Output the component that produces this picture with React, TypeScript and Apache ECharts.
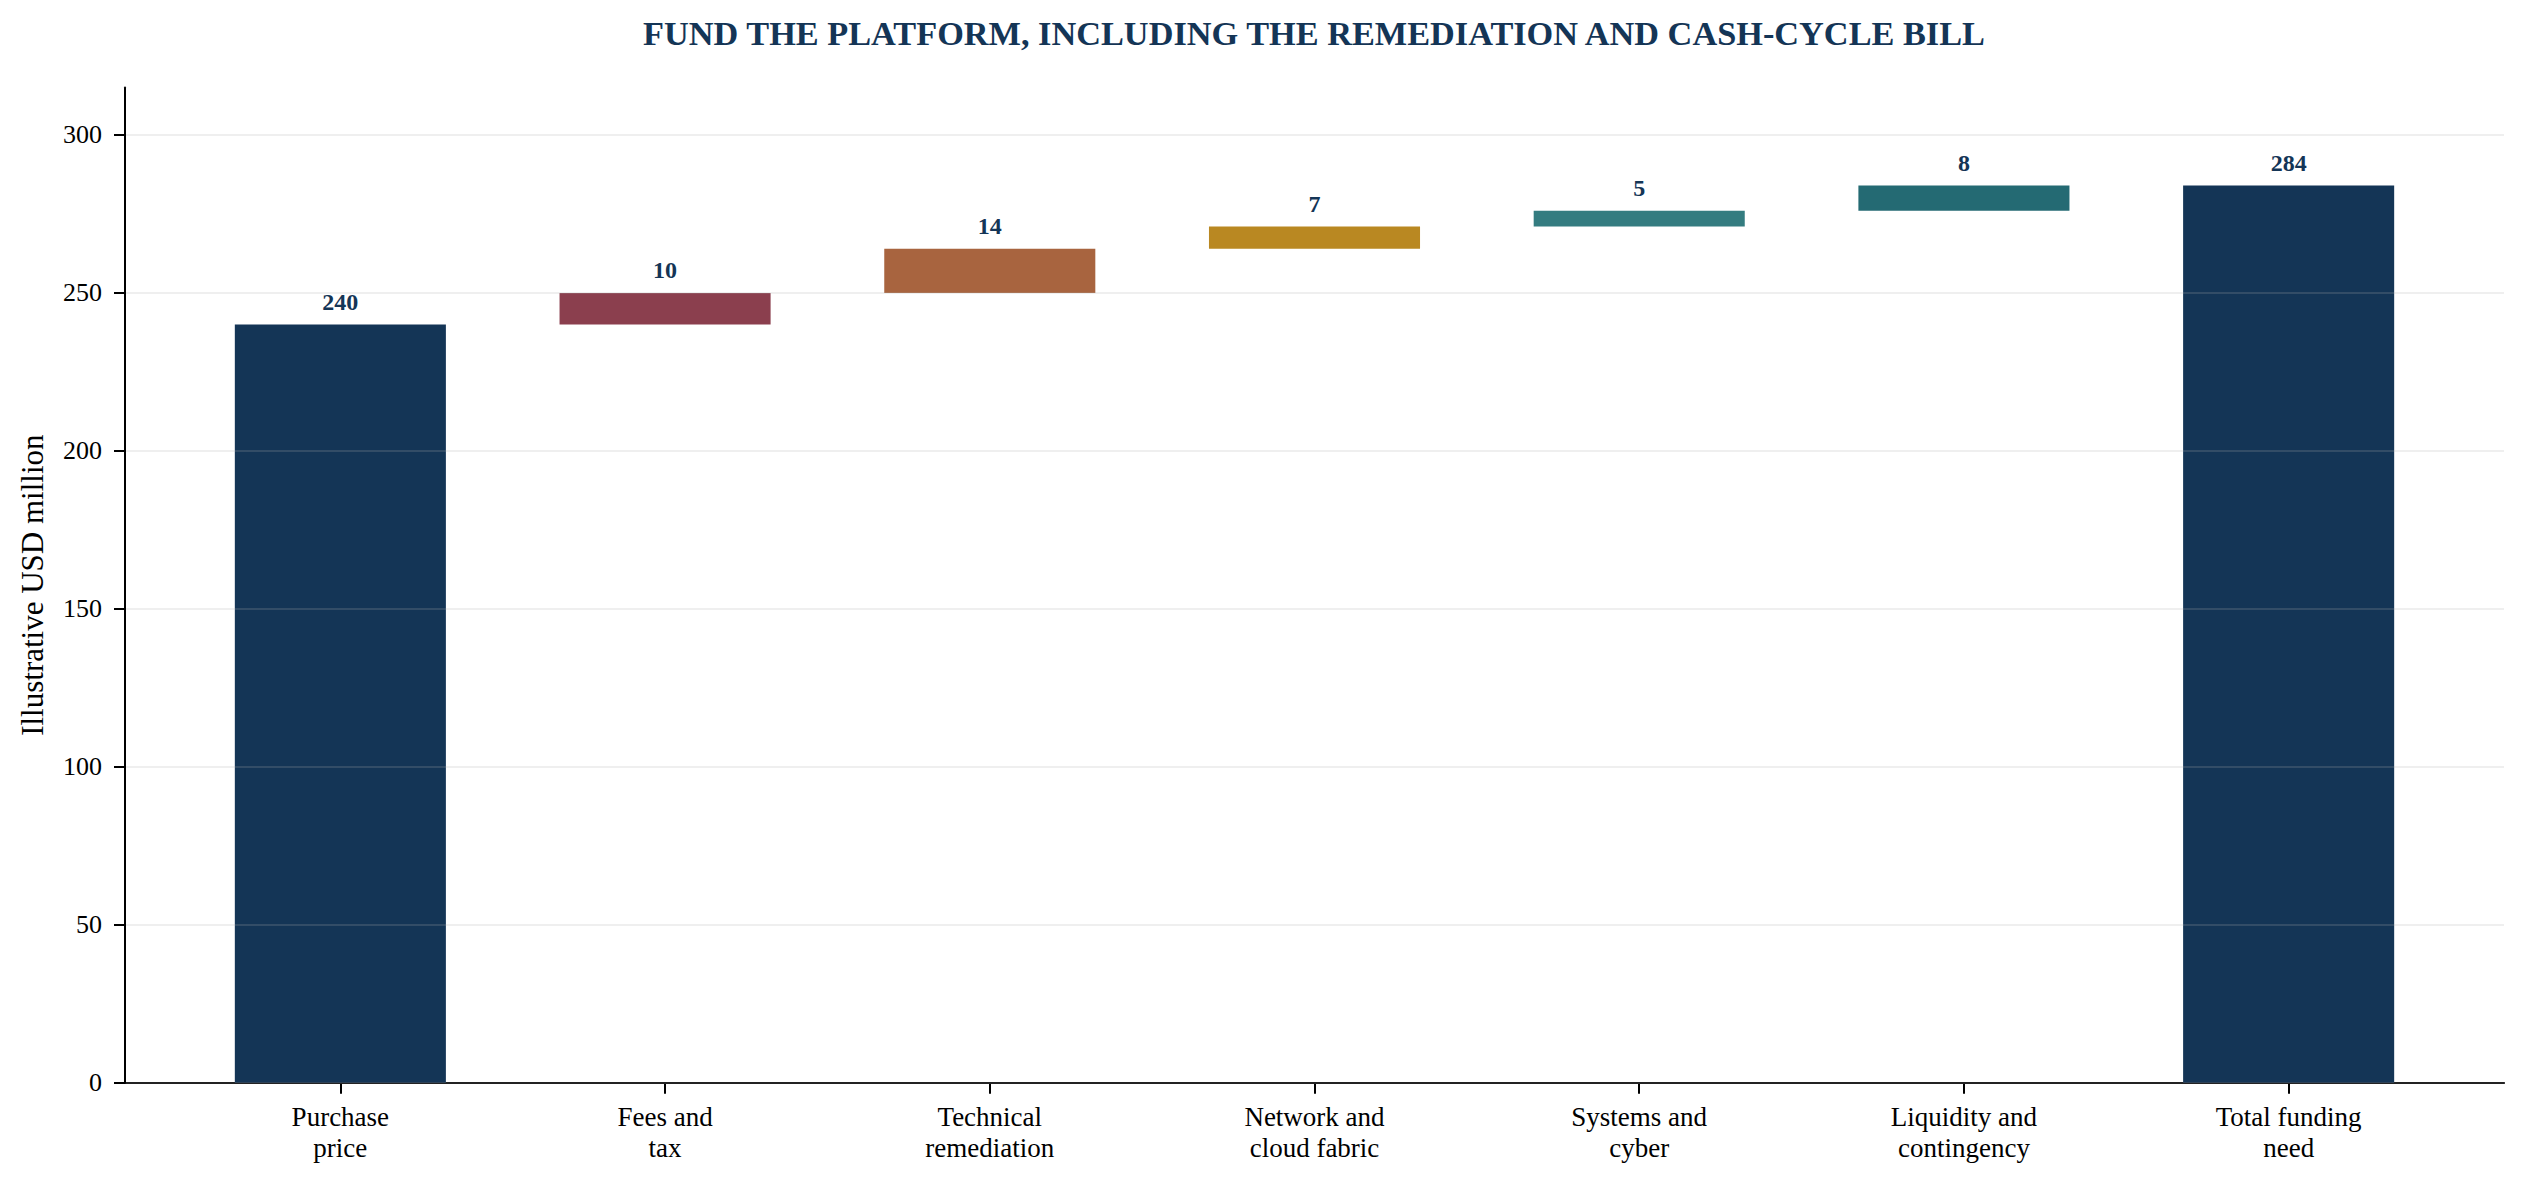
import { useEffect, useRef } from "react";
import * as echarts from "echarts";

const TITLE = "FUND THE PLATFORM, INCLUDING THE REMEDIATION AND CASH-CYCLE BILL";
const Y_NAME = "Illustrative USD million";

const categories = [
  "Purchase\nprice",
  "Fees and\ntax",
  "Technical\nremediation",
  "Network and\ncloud fabric",
  "Systems and\ncyber",
  "Liquidity and\ncontingency",
  "Total funding\nneed",
];
// starting value, the five add-ons, then the total
const amounts = [240, 10, 14, 7, 5, 8, 284];
const isTotal = [true, false, false, false, false, false, true];
const barColors = ["#143556", "#8B3F4E", "#A8643F", "#B98822", "#347C80", "#246A73", "#143556"];
const yTicks = [0, 50, 100, 150, 200, 250, 300];

const FONT = '"Liberation Serif", "Times New Roman", serif';
const NAVY = "#143556";

// invisible base under each floating bar
function waterfallBases(): number[] {
  let run = 0;
  return amounts.map((v, i) => {
    if (isTotal[i]) {
      run = v;
      return 0;
    }
    const b = run;
    run += v;
    return b;
  });
}

export default function App() {
  const ref = useRef<HTMLDivElement>(null);

  useEffect(() => {
    document.body.style.margin = "0";
    if (!ref.current) return;
    const chart = echarts.init(ref.current, undefined, { renderer: "svg" });
    const bases = waterfallBases();

    chart.setOption({
      animation: false,
      backgroundColor: "#ffffff",
      textStyle: { fontFamily: FONT },
      graphic: [
        {
          type: "text",
          x: 1314,
          y: 33,
          style: {
            text: TITLE,
            fill: NAVY,
            font: `bold 34.3px ${FONT}`,
            align: "center",
            verticalAlign: "middle",
          },
        },
      ],
      grid: [
        { left: 125, right: 21, top: 87.6, bottom: 104.3 },
        { left: 178, right: 74, top: 87.6, bottom: 104.3 },
      ],
      xAxis: [
        {
          gridIndex: 0,
          type: "value",
          min: 0,
          max: 1,
          axisLine: { show: true, lineStyle: { color: "#000", width: 2 } },
          axisTick: { show: false },
          axisLabel: { show: false },
          splitLine: { show: false },
        },
        {
          gridIndex: 1,
          type: "category",
          data: categories,
          axisLine: { show: false },
          axisTick: { show: true, alignWithLabel: true, length: 11, lineStyle: { color: "#000", width: 2 } },
          axisLabel: { margin: 19, fontSize: 27, lineHeight: 31, color: "#000", fontFamily: FONT },
          splitLine: { show: false },
        },
      ],
      yAxis: [
        {
          gridIndex: 0,
          type: "value",
          min: 0,
          max: 315,
          z: 3,
          name: Y_NAME,
          nameLocation: "middle",
          nameRotate: 90,
          nameGap: 77,
          nameTextStyle: { fontSize: 31, color: "#000", fontFamily: FONT },
          axisLine: { show: true, lineStyle: { color: "#000", width: 2 } },
          axisTick: { show: true, length: 11, customValues: yTicks, lineStyle: { color: "#000", width: 2 } },
          axisLabel: { customValues: yTicks, margin: 23, fontSize: 26, color: "#000", fontFamily: FONT },
          splitLine: { show: true, lineStyle: { color: "rgba(176,176,176,0.2)", width: 2 } },
        },
        { gridIndex: 1, type: "value", min: 0, max: 315, show: false },
      ],
      series: [
        {
          type: "bar",
          xAxisIndex: 1,
          yAxisIndex: 1,
          stack: "fall",
          barWidth: "65%",
          silent: true,
          itemStyle: { color: "transparent" },
          data: bases,
        },
        {
          type: "bar",
          xAxisIndex: 1,
          yAxisIndex: 1,
          stack: "fall",
          barWidth: "65%",
          data: amounts.map((v, i) => ({ value: v, itemStyle: { color: barColors[i] } })),
          label: {
            show: true,
            position: "top",
            distance: 11,
            fontSize: 24,
            fontWeight: "bold",
            color: NAVY,
            fontFamily: FONT,
          },
        },
      ],
    });

    return () => chart.dispose();
  }, []);

  return <div ref={ref} style={{ width: 2525, height: 1187 }} />;
}
